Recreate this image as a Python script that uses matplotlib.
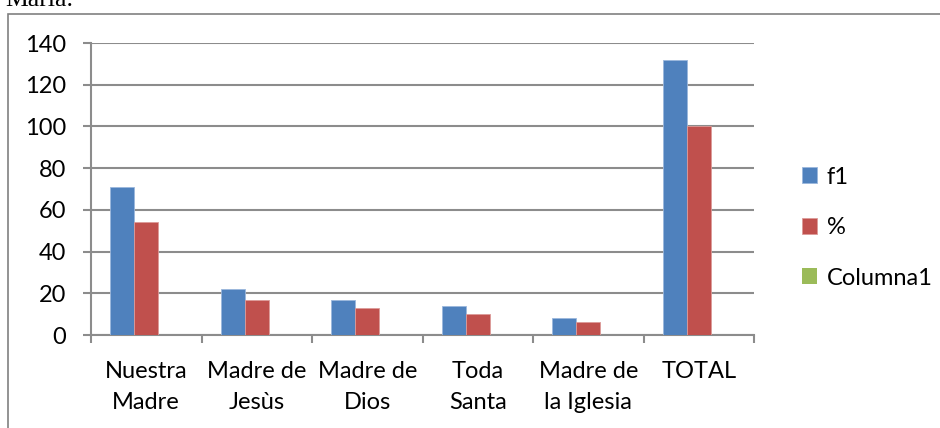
import matplotlib.pyplot as plt
from matplotlib.patches import Rectangle
import numpy as np

categories = ['Nuestra\nMadre', 'Madre de\nJesùs', 'Madre de\nDios', 'Toda\nSanta', 'Madre de\nla Iglesia', 'TOTAL']
f1 = [71, 22, 17, 14, 8, 132]
pct = [54, 17, 13, 10, 6, 100]
columna1 = [0, 0, 0, 0, 0, 0]

plt.rcParams['font.family'] = ['Lato', 'DejaVu Sans']

fig = plt.figure(figsize=(9.4, 4.28), dpi=100)
ax = fig.add_axes([91 / 940, 93 / 428, 663 / 940, 292 / 428])

x = np.arange(len(categories))
w = 0.217
grid_c = '#8c8c8c'
ax.bar(x - w, f1, w, color='#4F81BD', edgecolor='#9bb7dc', linewidth=0.6, label='f1', zorder=3)
ax.bar(x, pct, w, color='#C0504D', edgecolor='#dc9a98', linewidth=0.6, label='%', zorder=3)
ax.bar(x + w, columna1, w, color='#9BBB59', label='Columna1', zorder=3)

ax.set_xlim(-0.5, len(categories) - 0.5)
ax.set_ylim(0, 140)
ax.set_yticks(range(0, 141, 20))
ax.yaxis.grid(True, color=grid_c, linewidth=1.5, zorder=0)
ax.set_axisbelow(True)
for s in ['top', 'right']:
    ax.spines[s].set_visible(False)
for s in ['left', 'bottom']:
    ax.spines[s].set_color(grid_c)
    ax.spines[s].set_linewidth(1.5)

ax.set_xticks(x)
ax.set_xticklabels(categories, fontsize=17, linespacing=1.55)
ax.set_xticks(np.arange(-0.5, len(categories), 1), minor=True)
ax.tick_params(axis='x', which='major', length=0, pad=19)
ax.tick_params(axis='x', which='minor', length=6, width=1.5, color=grid_c, direction='out')
ax.tick_params(axis='y', length=6, width=1.5, color=grid_c, labelsize=17, pad=12)

leg = ax.legend(loc='center left', bbox_to_anchor=(1.04, 0.368), frameon=False,
                fontsize=17, handlelength=0.65, handleheight=0.65, handletextpad=0.4,
                labelspacing=1.25)

# outer chart border (cropped at right and bottom)
fig.patches.append(Rectangle((8 / 940, -0.1), 1.0, (428 - 14) / 428 + 0.1,
                             transform=fig.transFigure, fill=False,
                             edgecolor='#808080', linewidth=1.2))
fig.text(5 / 940, 1 - 6 / 428, 'María.', family=['Liberation Serif'], fontsize=18.5,
         va='baseline', ha='left')

fig.savefig('out.png', dpi=100)
